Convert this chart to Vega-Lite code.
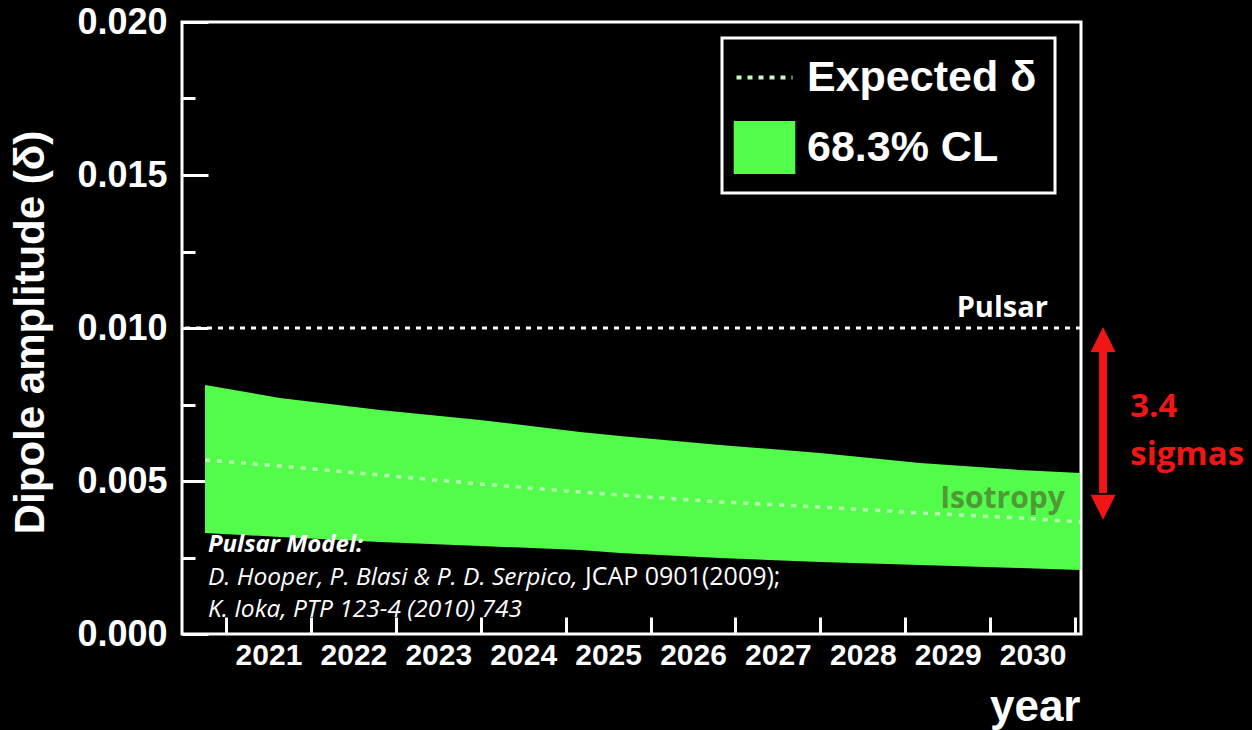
{
  "$schema": "https://vega.github.io/schema/vega-lite/v6.json",
  "width": 899,
  "height": 612,
  "autosize": {"type": "none"},
  "padding": {"left": 182, "top": 22, "right": 171, "bottom": 96},
  "background": "black",
  "config": {"view": {"stroke": "white", "strokeWidth": 3}},
  "datasets": {
    "band": [
      {"year": 2020.753, "upper": 0.008137, "lower": 0.003301, "series": "68.3% CL"},
      {"year": 2021.636, "upper": 0.007712, "lower": 0.003170, "series": "68.3% CL"},
      {"year": 2022.814, "upper": 0.007320, "lower": 0.003007, "series": "68.3% CL"},
      {"year": 2023.992, "upper": 0.006993, "lower": 0.002876, "series": "68.3% CL"},
      {"year": 2025.170, "upper": 0.006601, "lower": 0.002745, "series": "68.3% CL"},
      {"year": 2025.641, "upper": 0.006471, "lower": 0.002647, "series": "68.3% CL"},
      {"year": 2026.819, "upper": 0.006176, "lower": 0.002484, "series": "68.3% CL"},
      {"year": 2027.996, "upper": 0.005915, "lower": 0.002353, "series": "68.3% CL"},
      {"year": 2029.174, "upper": 0.005588, "lower": 0.002255, "series": "68.3% CL"},
      {"year": 2030.352, "upper": 0.005359, "lower": 0.002157, "series": "68.3% CL"},
      {"year": 2031.059, "upper": 0.005261, "lower": 0.002092, "series": "68.3% CL"}
    ],
    "expected": [
      {"year": 2020.753, "delta": 0.005686, "series": "Expected δ"},
      {"year": 2021.636, "delta": 0.005490, "series": "Expected δ"},
      {"year": 2022.814, "delta": 0.005196, "series": "Expected δ"},
      {"year": 2023.992, "delta": 0.004902, "series": "Expected δ"},
      {"year": 2025.170, "delta": 0.004641, "series": "Expected δ"},
      {"year": 2025.641, "delta": 0.004542, "series": "Expected δ"},
      {"year": 2026.819, "delta": 0.004314, "series": "Expected δ"},
      {"year": 2027.996, "delta": 0.004150, "series": "Expected δ"},
      {"year": 2029.174, "delta": 0.003954, "series": "Expected δ"},
      {"year": 2030.352, "delta": 0.003791, "series": "Expected δ"},
      {"year": 2031.059, "delta": 0.003660, "series": "Expected δ"}
    ],
    "pulsar": [{"level": 0.01}],
    "refTitle": [{"year": 2020.788, "value": 0.00268, "text": "Pulsar Model:"}],
    "refsItalic": [
      {"year": 2020.788, "value": 0.001601, "text": "D. Hooper, P. Blasi & P. D. Serpico,"},
      {"year": 2020.788, "value": 0.000556, "text": "K. Ioka, PTP 123-4 (2010) 743"}
    ],
    "refsUpright": [
      {"year": 2025.228, "value": 0.001601, "text": "JCAP 0901(2009);"}
    ],
    "pulsarLabel": [{"year": 2030.68, "value": 0.01036, "text": "Pulsar"}],
    "isoLabel": [{"year": 2030.88, "value": 0.004118, "text": "Isotropy"}],
    "sigmaLabel": [
      {"year": 2031.65, "value": 0.007092, "text": "3.4"},
      {"year": 2031.65, "value": 0.005523, "text": "sigmas"}
    ],
    "shaft": [{"year": 2031.33, "from": 0.00922, "to": 0.00461}],
    "heads": [
      {"year": 2031.33, "value": 0.01003, "dir": "up"},
      {"year": 2031.33, "value": 0.00373, "dir": "down"}
    ]
  },
  "layer": [
    {
      "data": {"name": "band"},
      "mark": {"type": "area"},
      "encoding": {
        "x": {
          "field": "year", "type": "quantitative",
          "scale": {"domain": [2020.482, 2031.07], "nice": false, "zero": false},
          "axis": {
            "orient": "bottom",
            "values": [2021, 2022, 2023, 2024, 2025, 2026, 2027, 2028, 2029, 2030, 2031],
            "format": "d",
            "labelExpr": "datum.value > 2030.5 ? '' : datum.label",
            "tickSize": -17, "tickWidth": 3, "tickColor": "white",
            "labelOffset": 42.5, "labelPadding": 47, "labelBaseline": "alphabetic",
            "labelFontSize": 30, "labelFont": "Liberation Sans", "labelFontWeight": "bold", "labelColor": "white",
            "labelFlush": false, "labelOverlap": false,
            "domain": false, "grid": false,
            "title": "year", "titleFontSize": 44, "titleFont": "Liberation Sans", "titleFontWeight": "bold",
            "titleColor": "white", "titleAlign": "right", "titleBaseline": "alphabetic",
            "titleX": 898, "titleY": 86
          }
        },
        "y": {
          "field": "upper", "type": "quantitative",
          "scale": {"domain": [0, 0.02], "nice": false},
          "axis": {
            "orient": "left",
            "values": [0, 0.005, 0.01, 0.015, 0.02],
            "format": ".3f",
            "tickSize": -26, "tickWidth": 3, "tickColor": "white",
            "labelPadding": 41, "labelBaseline": "middle",
            "labelFontSize": 36, "labelFont": "Liberation Sans", "labelFontWeight": "bold", "labelColor": "white",
            "labelFlush": false, "labelOverlap": false,
            "domain": false, "grid": false,
            "title": "Dipole amplitude (δ)", "titleFontSize": 42, "titleFont": "Liberation Sans", "titleFontWeight": "bold",
            "titleColor": "white", "titleAngle": -90, "titleAlign": "center", "titleBaseline": "alphabetic",
            "titleX": -139, "titleY": 310
          }
        },
        "y2": {"field": "lower"},
        "color": {
          "field": "series", "type": "nominal",
          "scale": {"domain": ["Expected δ", "68.3% CL"], "range": ["#c8f8c2", "#53fc4b"]},
          "legend": {
            "orient": "none", "legendX": 540, "legendY": 16,
            "title": null, "direction": "vertical",
            "padding": 18, "symbolOffset": 3, "symbolSize": 3136, "rowPadding": 20, "labelOffset": 21,
            "labelFontSize": 43, "labelFont": "Liberation Sans", "labelFontWeight": "bold", "labelColor": "white",
            "labelLimit": 400,
            "encode": {
              "legend": {"update": {"stroke": {"value": "white"}, "strokeWidth": {"value": 3}, "fill": {"value": "black"}}},
              "symbols": {"update": {
                "shape": {"signal": "datum.value === 'Expected δ' ? 'stroke' : 'M-1.1,-0.95H1.1V0.95H-1.1Z'"},
                "strokeDash": {"signal": "datum.value === 'Expected δ' ? [5, 6] : [1, 0]"},
                "strokeWidth": {"signal": "datum.value === 'Expected δ' ? 4 : 0"},
                "stroke": {"signal": "datum.value === 'Expected δ' ? '#b2f3aa' : '#53fc4b'"},
                "fill": {"signal": "datum.value === 'Expected δ' ? 'transparent' : '#53fc4b'"},
                "opacity": {"value": 1}
              }}
            }
          }
        }
      }
    },
    {
      "data": {"name": "expected"},
      "mark": {"type": "line", "strokeDash": [5, 7], "strokeWidth": 3.5, "opacity": 0.85},
      "encoding": {
        "x": {"field": "year", "type": "quantitative", "scale": {"domain": [2020.482, 2031.07], "nice": false, "zero": false}, "axis": null},
        "y": {
          "field": "delta", "type": "quantitative",
          "scale": {"domain": [0, 0.02], "nice": false},
          "axis": {
            "orient": "left",
            "values": [0.0025, 0.0075, 0.0125, 0.0175],
            "labels": false, "domain": false, "grid": false,
            "tickSize": -13, "tickWidth": 3, "tickColor": "white",
            "title": null
          }
        },
        "color": {"field": "series", "type": "nominal"}
      }
    },
    {
      "data": {"name": "pulsar"},
      "mark": {"type": "rule", "color": "white", "strokeWidth": 3, "strokeDash": [5, 6]},
      "encoding": {
        "y": {"field": "level", "type": "quantitative", "scale": {"domain": [0, 0.02], "nice": false}, "axis": null}
      }
    },
    {
      "data": {"name": "refTitle"},
      "mark": {"type": "text", "align": "left", "baseline": "alphabetic", "font": "Open Sans", "fontSize": 24, "fontStyle": "italic", "fontWeight": "bold", "color": "white"},
      "encoding": {
        "x": {"field": "year", "type": "quantitative", "scale": {"domain": [2020.482, 2031.07], "nice": false, "zero": false}, "axis": null},
        "y": {"field": "value", "type": "quantitative", "scale": {"domain": [0, 0.02], "nice": false}, "axis": null},
        "text": {"field": "text"}
      }
    },
    {
      "data": {"name": "refsItalic"},
      "mark": {"type": "text", "align": "left", "baseline": "alphabetic", "font": "Open Sans", "fontSize": 24.5, "fontStyle": "italic", "color": "white"},
      "encoding": {
        "x": {"field": "year", "type": "quantitative", "scale": {"domain": [2020.482, 2031.07], "nice": false, "zero": false}, "axis": null},
        "y": {"field": "value", "type": "quantitative", "scale": {"domain": [0, 0.02], "nice": false}, "axis": null},
        "text": {"field": "text"}
      }
    },
    {
      "data": {"name": "refsUpright"},
      "mark": {"type": "text", "align": "left", "baseline": "alphabetic", "font": "Open Sans", "fontSize": 25, "color": "white"},
      "encoding": {
        "x": {"field": "year", "type": "quantitative", "scale": {"domain": [2020.482, 2031.07], "nice": false, "zero": false}, "axis": null},
        "y": {"field": "value", "type": "quantitative", "scale": {"domain": [0, 0.02], "nice": false}, "axis": null},
        "text": {"field": "text"}
      }
    },
    {
      "data": {"name": "pulsarLabel"},
      "mark": {"type": "text", "align": "right", "baseline": "alphabetic", "font": "Open Sans", "fontSize": 29, "fontWeight": "bold", "color": "white"},
      "encoding": {
        "x": {"field": "year", "type": "quantitative", "scale": {"domain": [2020.482, 2031.07], "nice": false, "zero": false}, "axis": null},
        "y": {"field": "value", "type": "quantitative", "scale": {"domain": [0, 0.02], "nice": false}, "axis": null},
        "text": {"field": "text"}
      }
    },
    {
      "data": {"name": "isoLabel"},
      "mark": {"type": "text", "align": "right", "baseline": "alphabetic", "font": "Open Sans", "fontSize": 30, "fontWeight": "bold", "color": "#4f9a37"},
      "encoding": {
        "x": {"field": "year", "type": "quantitative", "scale": {"domain": [2020.482, 2031.07], "nice": false, "zero": false}, "axis": null},
        "y": {"field": "value", "type": "quantitative", "scale": {"domain": [0, 0.02], "nice": false}, "axis": null},
        "text": {"field": "text"}
      }
    },
    {
      "data": {"name": "sigmaLabel"},
      "mark": {"type": "text", "align": "left", "baseline": "alphabetic", "font": "Open Sans", "fontSize": 33, "fontWeight": "bold", "color": "#f01616"},
      "encoding": {
        "x": {"field": "year", "type": "quantitative", "scale": {"domain": [2020.482, 2031.07], "nice": false, "zero": false}, "axis": null},
        "y": {"field": "value", "type": "quantitative", "scale": {"domain": [0, 0.02], "nice": false}, "axis": null},
        "text": {"field": "text"}
      }
    },
    {
      "data": {"name": "shaft"},
      "mark": {"type": "rule", "color": "#f01616", "strokeWidth": 8},
      "encoding": {
        "x": {"field": "year", "type": "quantitative", "scale": {"domain": [2020.482, 2031.07], "nice": false, "zero": false}, "axis": null},
        "y": {"field": "from", "type": "quantitative", "scale": {"domain": [0, 0.02], "nice": false}, "axis": null},
        "y2": {"field": "to"}
      }
    },
    {
      "data": {"name": "heads"},
      "mark": {"type": "point", "filled": true, "color": "#f01616", "opacity": 1, "size": 625},
      "encoding": {
        "x": {"field": "year", "type": "quantitative", "scale": {"domain": [2020.482, 2031.07], "nice": false, "zero": false}, "axis": null},
        "y": {"field": "value", "type": "quantitative", "scale": {"domain": [0, 0.02], "nice": false}, "axis": null},
        "shape": {"field": "dir", "type": "nominal", "scale": {"domain": ["up", "down"], "range": ["M0,0L-1,2L1,2Z", "M0,0L-1,-2L1,-2Z"]}, "legend": null}
      }
    }
  ],
  "resolve": {"axis": {"x": "independent", "y": "independent"}}
}
